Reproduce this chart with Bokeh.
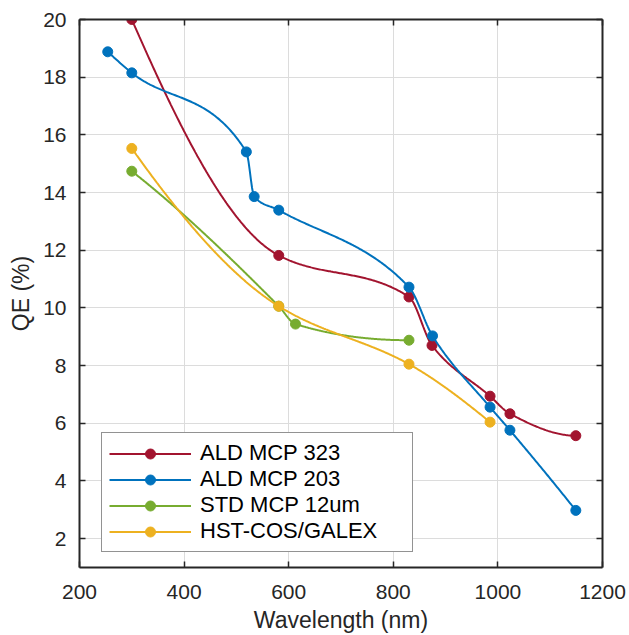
import numpy as np
from bokeh.plotting import figure
from bokeh.models import LinearAxis, FixedTicker, Legend, LegendItem, Range1d
from bokeh.embed import file_html
from bokeh.resources import INLINE

# ---- data ----
ald323_x = [300, 581, 830, 874, 985, 1023, 1149]
ald323_y = [20.0, 11.82, 10.38, 8.70, 6.94, 6.33, 5.57]

ald203_x = [254, 300, 519, 534, 581, 830, 875, 985, 1023, 1149]
ald203_y = [18.88, 18.15, 15.41, 13.86, 13.39, 10.72, 9.03, 6.56, 5.76, 2.98]

std12_x = [300, 581, 613, 830]
std12_y = [14.74, 10.06, 9.44, 8.88]

hst_x = [300, 581, 830, 985]
hst_y = [15.53, 10.06, 8.05, 6.04]

series_names = ["ALD MCP 323", "ALD MCP 203", "STD MCP 12um", "HST-COS/GALEX"]
series_colors = ["#A2142F", "#0072BD", "#77AC30", "#EDB120"]

x_ticks = [200, 400, 600, 800, 1000, 1200]
y_ticks = [2, 4, 6, 8, 10, 12, 14, 16, 18, 20]


def pchip_curve(x, y, n=400):
    """Shape-preserving piecewise cubic (pchip) through the points, as drawn in the reference."""
    x = np.asarray(x, float)
    y = np.asarray(y, float)
    h = np.diff(x)
    dl = np.diff(y) / h
    m = len(x)
    d = np.zeros(m)
    for k in range(1, m - 1):
        if dl[k - 1] * dl[k] > 0:
            w1 = 2 * h[k] + h[k - 1]
            w2 = h[k] + 2 * h[k - 1]
            d[k] = (w1 + w2) / (w1 / dl[k - 1] + w2 / dl[k])

    def end(h0, h1, d0, d1):
        s = ((2 * h0 + h1) * d0 - h0 * d1) / (h0 + h1)
        if np.sign(s) != np.sign(d0):
            s = 0.0
        elif np.sign(d0) != np.sign(d1) and abs(s) > abs(3 * d0):
            s = 3 * d0
        return s

    d[0] = end(h[0], h[1], dl[0], dl[1])
    d[-1] = end(h[-1], h[-2], dl[-1], dl[-2])
    xs = np.linspace(x[0], x[-1], n)
    idx = np.clip(np.searchsorted(x, xs) - 1, 0, m - 2)
    hh = h[idx]
    s = (xs - x[idx]) / hh
    h00 = 2 * s**3 - 3 * s**2 + 1
    h10 = s**3 - 2 * s**2 + s
    h01 = -2 * s**3 + 3 * s**2
    h11 = s**3 - s**2
    ys = h00 * y[idx] + h10 * hh * d[idx] + h01 * y[idx + 1] + h11 * hh * d[idx + 1]
    return xs, ys


FONT = "Liberation Sans"
TXT = "#262626"

p = figure(width=629, height=635, output_backend="svg", toolbar_location=None,
           x_range=Range1d(200, 1200), y_range=Range1d(1, 20),
           min_border_left=79, min_border_right=27, min_border_top=19, min_border_bottom=67,
           x_axis_label="Wavelength (nm)", y_axis_label="QE (%)")
p.background_fill_color = "white"
p.border_fill_color = "white"
p.outline_line_color = None

for ax, ticks in ((p.xaxis[0], x_ticks), (p.yaxis[0], y_ticks)):
    ax.ticker = FixedTicker(ticks=ticks)
    ax.major_tick_in = 6
    ax.major_tick_out = 0
    ax.minor_tick_line_color = None
    ax.axis_line_width = 2
    ax.axis_line_color = TXT
    ax.major_tick_line_color = TXT
    ax.major_tick_line_width = 1.5
    ax.major_label_text_font = FONT
    ax.major_label_text_font_size = "21px"
    ax.major_label_text_color = TXT
    ax.axis_label_text_font = FONT
    ax.axis_label_text_font_size = "23px"
    ax.axis_label_text_font_style = "normal"
    ax.axis_label_text_color = TXT

p.xaxis.major_label_standoff = 17
p.yaxis.major_label_standoff = 13
p.xaxis.axis_label_standoff = 5
p.yaxis.axis_label_standoff = 6

for loc, ticks in (("above", x_ticks), ("right", y_ticks)):
    ax = LinearAxis(ticker=FixedTicker(ticks=ticks))
    ax.major_tick_in = 6
    ax.major_tick_out = 0
    ax.minor_tick_line_color = None
    ax.axis_line_width = 2
    ax.axis_line_color = TXT
    ax.major_tick_line_color = TXT
    ax.major_tick_line_width = 1.5
    ax.major_label_text_font_size = "1px"
    ax.major_label_text_color = None
    ax.major_label_text_alpha = 0
    ax.major_label_standoff = 0
    p.add_layout(ax, loc)

p.xgrid.ticker = FixedTicker(ticks=x_ticks)
p.ygrid.ticker = FixedTicker(ticks=y_ticks)
p.grid.grid_line_color = "#dcdcdc"
p.grid.grid_line_width = 1

items = []
all_series = [(ald323_x, ald323_y), (ald203_x, ald203_y), (std12_x, std12_y), (hst_x, hst_y)]
for (xv, yv), name, col in zip(all_series, series_names, series_colors):
    xs, ys = pchip_curve(xv, yv)
    r1 = p.line(xs, ys, line_color=col, line_width=2)
    r2 = p.scatter(xv, yv, size=10, fill_color=col, line_color=col)
    items.append(LegendItem(label=name, renderers=[r1, r2]))

legend = Legend(items=items, location=(22, 15))
legend.glyph_width = 82
legend.glyph_height = 25
legend.label_height = 25
legend.label_width = 205
legend.spacing = 0
legend.padding = 7
legend.margin = 0
legend.label_standoff = 9
legend.label_text_font = FONT
legend.label_text_font_size = "22px"
legend.label_text_line_height = 1.0
legend.label_text_color = "black"
legend.border_line_color = TXT
legend.border_line_width = 1.5
legend.background_fill_color = "white"
legend.background_fill_alpha = 1
p.add_layout(legend, "center")

open("out.html", "w").write(file_html(p, INLINE))
